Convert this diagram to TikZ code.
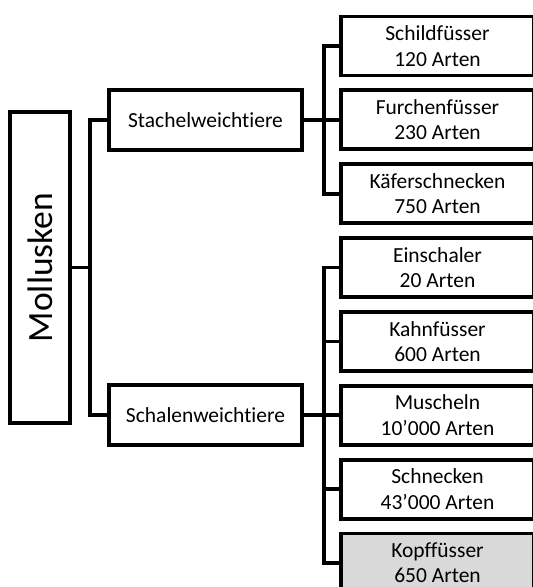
\documentclass[tikz,border=0pt]{standalone}
\usepackage{fontspec}
\setmainfont{Carlito}[Ligatures=NoCommon]
\usepackage{graphicx}
\usetikzlibrary{positioning,calc}
\definecolor{kopfgrau}{RGB}{217,217,217}

\begin{document}
\begin{tikzpicture}
		[x=1pt, y=-1pt, line width=3.8pt,
		kasten/.style={draw, inner sep=0pt, outer sep=0pt, minimum width=193pt, minimum height=59pt,
			align=center, font=\fontsize{21.5}{25.5}\selectfont}]
		\clip (0,0) rectangle (533,587);
		\node[kasten, minimum width=60pt, minimum height=311pt, font=\fontsize{35.5}{40}\selectfont] (moll) at (40,267.5) {\rotatebox{90}{Mollusken}};
		\node[kasten, minimum height=60pt] (stachel) at (205.5,120) {Stachelweichtiere};
		\node[kasten, minimum height=60pt] (schalen) at (205.5,415) {Schalenweichtiere};

		\node[kasten] (schild) at (437.5,46) {Schildfüsser\\120 Arten};
		\node[kasten] (furchen) at (437.5,119.85) {Furchenfüsser\\230 Arten};
		\node[kasten] (kaefer) at (437.5,193.7) {Käferschnecken\\750 Arten};
		\node[kasten] (einsch) at (437.5,267.55) {Einschaler\\20 Arten};
		\node[kasten] (kahn) at (437.5,341.4) {Kahnfüsser\\600 Arten};
		\node[kasten] (muschel) at (437.5,415.25) {Muscheln\\10’000 Arten};
		\node[kasten] (schneck) at (437.5,489.1) {Schnecken\\43’000 Arten};
		\node[kasten, fill=kopfgrau] (kopf) at (437.5,562.95) {Kopffüsser\\650 Arten};

		\coordinate (busL) at (90,267.5);
		\coordinate (busA) at (324,120);
		\coordinate (busB) at (324,415);
		\draw (moll.east) -- (busL);
		\draw (stachel.west) -| (busL) |- (schalen.west);
		\draw (stachel.east) -- (busA);
		\draw (schild.west) -| (busA) |- (kaefer.west);
		\draw (furchen.west) -- (furchen.west -| busA);
		\draw (schalen.east) -- (busB);
		\draw (einsch.west) -| (busB) |- (kopf.west);
		\foreach \n in {kahn,muschel,schneck}
			\draw (\n.west) -- (\n.west -| busB);
	\end{tikzpicture}
\end{document}
